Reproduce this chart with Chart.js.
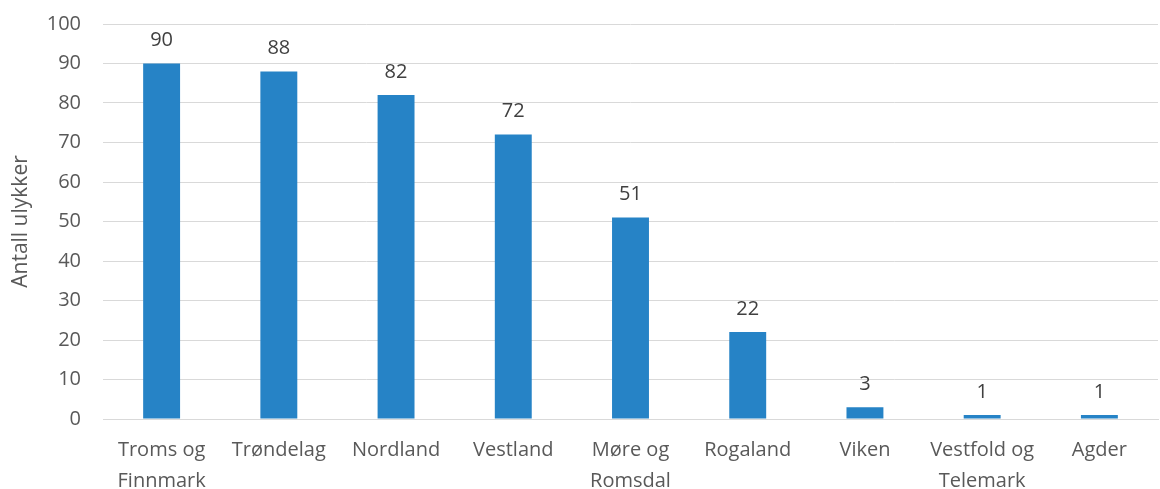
<!DOCTYPE html>
<html>
<head>
<meta charset="utf-8">
<script src="https://cdn.jsdelivr.net/npm/chart.js@4"></script>
<style>
  html, body { margin: 0; padding: 0; background: #fff; }
  #wrap { width: 1160px; height: 489px; }
</style>
</head>
<body>
<div id="wrap"><canvas id="ulykker"></canvas></div>
<script>
const fylker = [
  ["Troms og", "Finnmark"], "Trøndelag", "Nordland", "Vestland",
  ["Møre og", "Romsdal"], "Rogaland", "Viken", ["Vestfold og", "Telemark"], "Agder"
];
const antall = [90, 88, 82, 72, 51, 22, 3, 1, 1];
const yTicks = [0, 10, 20, 30, 40, 50, 60, 70, 80, 90, 100];

const tekstFarge = "#595959";
const font = "'Open Sans', Lato, sans-serif";

// verdier over hver søyle
const verdiEtiketter = {
  id: "verdiEtiketter",
  afterDatasetsDraw(chart) {
    const ctx = chart.ctx;
    const meta = chart.getDatasetMeta(0);
    ctx.save();
    ctx.fillStyle = "#404040";
    ctx.font = "20px " + font;
    ctx.textAlign = "center";
    ctx.textBaseline = "middle";
    meta.data.forEach((bar, i) => {
      ctx.fillText(String(antall[i]), bar.x, bar.y - 23);
    });
    ctx.restore();
  }
};

new Chart(document.getElementById("ulykker"), {
  type: "bar",
  data: {
    labels: fylker,
    datasets: [{
      data: antall,
      backgroundColor: "#2683C6",
      categoryPercentage: 1,
      barPercentage: 0.315
    }]
  },
  options: {
    responsive: true,
    maintainAspectRatio: false,
    animation: false,
    layout: { padding: { top: 24, right: 2, left: 0, bottom: 0 } },
    plugins: { legend: { display: false }, tooltip: { enabled: false } },
    scales: {
      x: {
        grid: { display: false },
        border: { color: "#d9d9d9", width: 1 },
        ticks: {
          color: tekstFarge,
          font: { family: font, size: 20, lineHeight: 1.55 },
          maxRotation: 0,
          autoSkip: false,
          padding: 8
        },
        afterFit(scale) {
          scale.height = 70;
          scale.paddingLeft = 0;
          scale.paddingRight = 0;
        }
      },
      y: {
        min: 0,
        max: 100,
        afterBuildTicks(scale) { scale.ticks = yTicks.map(v => ({ value: v })); },
        grid: { color: "#d9d9d9", drawTicks: false },
        border: { display: false },
        ticks: {
          color: tekstFarge,
          font: { family: font, size: 20 },
          padding: 22
        },
        title: {
          display: true,
          text: "Antall ulykker",
          color: tekstFarge,
          font: { family: font, size: 21 },
          padding: { top: 8, bottom: 0 }
        },
        afterFit(scale) {
          scale.width = 103;
          scale.paddingTop = 0;
          scale.paddingBottom = 0;
        }
      }
    }
  },
  plugins: [verdiEtiketter]
});
</script>
</body>
</html>
